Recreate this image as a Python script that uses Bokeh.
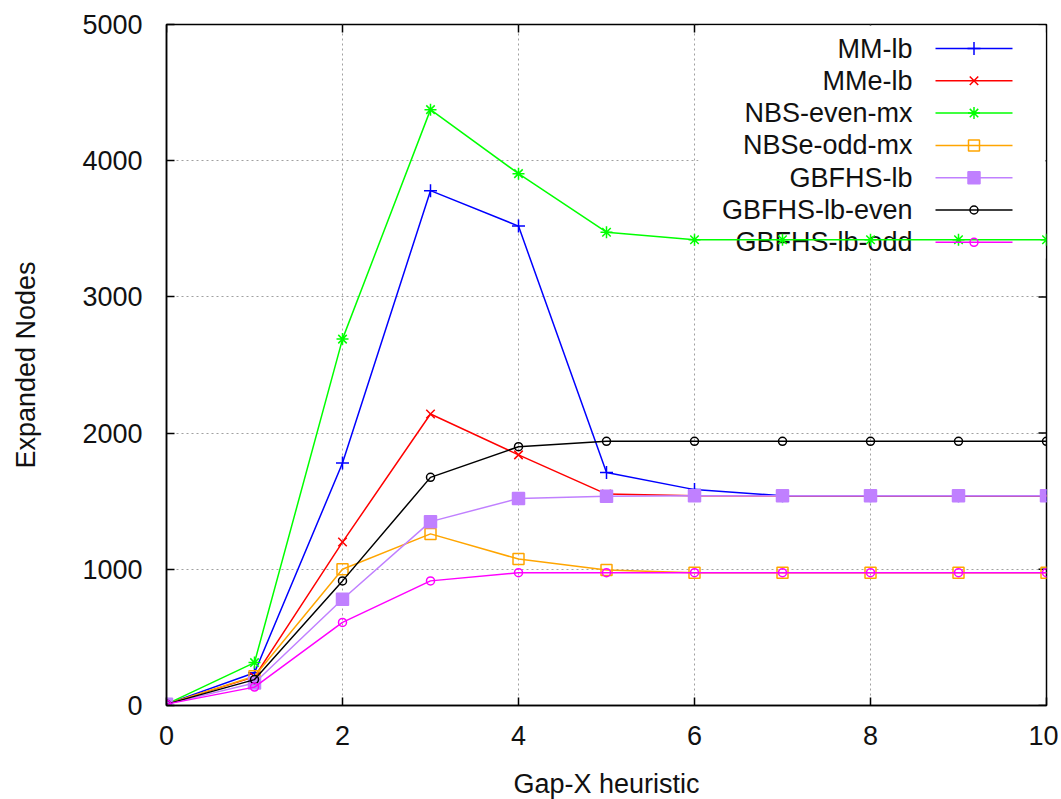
from bokeh.plotting import figure
from bokeh.models import Range1d, FixedTicker
from bokeh.embed import file_html
from bokeh.resources import INLINE
from bokeh.core.properties import value

# ---------------- data ----------------
x_values = [0, 1, 2, 3, 4, 5, 6, 7, 8, 9, 10]
series_names = ["MM-lb", "MMe-lb", "NBS-even-mx", "NBSe-odd-mx",
                "GBFHS-lb", "GBFHS-lb-even", "GBFHS-lb-odd"]
mm_lb = [10, 240, 1780, 3780, 3520, 1710, 1585, 1540, 1540, 1540, 1540]
mme_lb = [10, 210, 1200, 2140, 1840, 1552, 1540, 1540, 1540, 1540, 1540]
nbs_even_mx = [10, 315, 2690, 4375, 3905, 3475, 3420, 3420, 3420, 3420, 3420]
nbse_odd_mx = [10, 215, 1000, 1260, 1075, 995, 975, 975, 975, 975, 975]
gbfhs_lb = [10, 165, 780, 1350, 1520, 1537, 1540, 1540, 1540, 1540, 1540]
gbfhs_lb_even = [10, 190, 915, 1675, 1900, 1940, 1940, 1940, 1940, 1940, 1940]
gbfhs_lb_odd = [10, 135, 610, 915, 975, 975, 975, 975, 975, 975, 975]
x_ticks = [0, 2, 4, 6, 8, 10]
y_ticks = [0, 1000, 2000, 3000, 4000, 5000]
x_title = "Gap-X heuristic"
y_title = "Expanded Nodes"

series_values = [mm_lb, mme_lb, nbs_even_mx, nbse_odd_mx,
                 gbfhs_lb, gbfhs_lb_even, gbfhs_lb_odd]

# ---------------- styles ----------------
colors = ["#0000ff", "#ff0000", "#00ff00", "#ffa500", "#c080ff", "#000000", "#ff00ff"]
markers = ["cross", "x", "asterisk", "square", "square", "circle", "circle"]
marker_sizes = [13, 12, 12, 11, 12, 8, 8]
marker_fills = [None, None, None, None, "#c080ff", None, None]
FONT = "Liberation Sans"
FONT_SIZE = "27px"
TEXT_COLOR = "#111111"

X0, X1, Y0, Y1 = 0, 10, 0, 5000
FRAME_W, FRAME_H = 880, 681
TICK_LEN = 8

p = figure(frame_width=FRAME_W, frame_height=FRAME_H,
           x_range=Range1d(X0, X1), y_range=Range1d(Y0, Y1),
           output_backend="svg", toolbar_location=None,
           min_border_left=166, min_border_top=24, min_border_right=12,
           min_border_bottom=20,
           background_fill_color="white", border_fill_color="white")

# axes
for ax in [p.xaxis[0], p.yaxis[0]]:
    ax.major_tick_in = TICK_LEN
    ax.major_tick_out = 0
    ax.minor_tick_in = 0
    ax.minor_tick_out = 0
    ax.axis_line_color = "black"
    ax.axis_line_width = 1.5
    ax.major_tick_line_color = "black"
    ax.major_tick_line_width = 1.5
    ax.major_label_text_font = FONT
    ax.major_label_text_font_size = FONT_SIZE
    ax.major_label_text_color = TEXT_COLOR
    ax.axis_label_text_font = FONT
    ax.axis_label_text_font_size = FONT_SIZE
    ax.axis_label_text_font_style = "normal"
    ax.axis_label_text_color = TEXT_COLOR

p.xaxis[0].ticker = FixedTicker(ticks=x_ticks)
p.yaxis[0].ticker = FixedTicker(ticks=y_ticks)
p.xaxis[0].axis_label = x_title
p.yaxis[0].axis_label = y_title
p.xaxis[0].major_label_standoff = 20
p.xaxis[0].axis_label_standoff = 21
p.yaxis[0].major_label_standoff = 24
p.yaxis[0].axis_label_standoff = 38

p.outline_line_color = "black"
p.outline_line_width = 1.5

# grid
p.xgrid.ticker = FixedTicker(ticks=x_ticks[1:-1])
p.ygrid.ticker = FixedTicker(ticks=y_ticks[1:-1])
for g in [p.xgrid[0], p.ygrid[0]]:
    g.grid_line_color = "#a0a0a0"
    g.grid_line_dash = "2 3"
    g.grid_line_width = 1

px_x = (X1 - X0) / FRAME_W
px_y = (Y1 - Y0) / FRAME_H

# mirrored inward ticks on top and right borders
p.segment(x0=x_ticks, y0=[Y1] * len(x_ticks), x1=x_ticks,
          y1=[Y1 - TICK_LEN * px_y] * len(x_ticks),
          line_color="black", line_width=1.5)
p.segment(x0=[X1] * len(y_ticks), y0=y_ticks, x1=[X1 - TICK_LEN * px_x] * len(y_ticks),
          y1=y_ticks, line_color="black", line_width=1.5)

# ---------------- key (legend) layout ----------------
key_text_x = X1 - 134 * px_x
key_line_x0 = X1 - 111 * px_x
key_line_x1 = X1 - 34 * px_x
key_mark_x = (key_line_x0 + key_line_x1) / 2
key_top_y = Y1 - 24 * px_y
key_step = 32.3 * px_y
key_ys = [key_top_y - i * key_step for i in range(len(series_names))]

# opaque key box
p.quad(left=[X1 - 348 * px_x], right=[X1 - 1 * px_x], bottom=[Y1 - 234 * px_y],
       top=[Y1 - 1 * px_y], fill_color="white", line_color=None)
p.text(x=[key_text_x] * len(series_names), y=key_ys, text=series_names,
       text_align="right", text_baseline="middle",
       text_font=value(FONT), text_font_size=FONT_SIZE, text_color=TEXT_COLOR)

# ---------------- series ----------------
for i, ys in enumerate(series_values):
    c = colors[i]
    p.line(x_values, ys, line_color=c, line_width=1.5)
    p.scatter(x_values, ys, marker=markers[i], size=marker_sizes[i],
              line_color=c, fill_color=marker_fills[i], line_width=1.5)
    ky = key_ys[i]
    p.line([key_line_x0, key_line_x1], [ky, ky], line_color=c, line_width=1.5)
    p.scatter([key_mark_x], [ky], marker=markers[i], size=marker_sizes[i],
              line_color=c, fill_color=marker_fills[i], line_width=1.5)

open("out.html", "w").write(file_html(p, INLINE))
